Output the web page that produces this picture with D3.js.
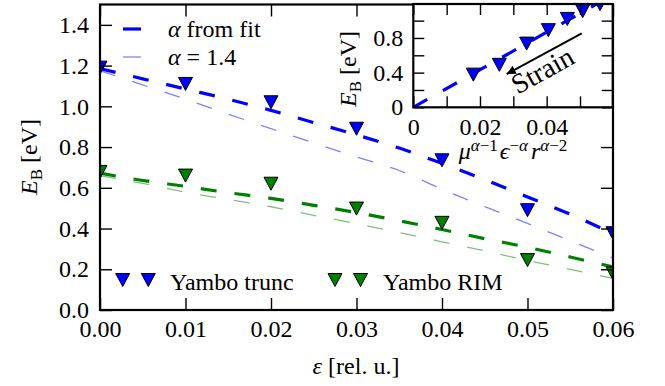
<!DOCTYPE html>
<html>
<head>
<meta charset="utf-8">
<script src="https://cdn.jsdelivr.net/npm/d3@7"></script>
<style>
  html, body { margin: 0; padding: 0; background: #fff; }
  svg { display: block; }
  text { font-family: "Liberation Serif", "Times New Roman", Times, "DejaVu Serif", serif; fill: #000; }
</style>
</head>
<body>
<svg id="chart" width="665" height="386"></svg>
<script>
// ---------- data ----------
const strain = [0, 0.01, 0.02, 0.03, 0.04, 0.05, 0.06];
const yamboTrunc = [1.19, 1.11, 1.02, 0.89, 0.735, 0.49, 0.377];
const yamboRIM = [0.678, 0.66, 0.62, 0.498, 0.428, 0.245, 0.18];

const curveStrain = [0, 0.005, 0.01, 0.015, 0.02, 0.025, 0.03, 0.035, 0.04, 0.045, 0.05, 0.055, 0.06];
const fitTrunc = [1.185, 1.135, 1.085, 1.035, 0.98, 0.92, 0.86, 0.795, 0.72, 0.64, 0.555, 0.47, 0.375];
const a14Trunc = [1.175, 1.105, 1.035, 0.962, 0.89, 0.82, 0.752, 0.685, 0.593, 0.508, 0.425, 0.34, 0.255];
const fitRIM = [0.672, 0.636, 0.607, 0.576, 0.548, 0.514, 0.478, 0.438, 0.395, 0.35, 0.308, 0.26, 0.212];
const a14RIM = [0.66, 0.622, 0.578, 0.543, 0.507, 0.465, 0.424, 0.38, 0.335, 0.29, 0.243, 0.2, 0.155];

const xTicks = [0, 0.01, 0.02, 0.03, 0.04, 0.05, 0.06];
const yTicks = [0, 0.2, 0.4, 0.6, 0.8, 1.0, 1.2, 1.4];

const insetX = [0.018, 0.0258, 0.034, 0.0405, 0.0462, 0.0508, 0.056];
const insetY = [0.377, 0.49, 0.735, 0.89, 1.02, 1.11, 1.19];
const insetFitX = [0, 0.06];
const insetFitY = [0, 1.3];
const insetXTicks = [0, 0.01, 0.02, 0.03, 0.04, 0.05];
const insetXLabels = [0, 0.02, 0.04];
const insetYTicks = [0, 0.2, 0.4, 0.6, 0.8, 1.0];
const insetYLabels = [0, 0.4, 0.8];

// ---------- style ----------
const BLUE = "#0000ff", BLUE_L = "#8080ff", GREEN = "#008000", GREEN_L = "#80c080";
const FS = 24;
const FONT = "Liberation Serif, Times New Roman, Times, DejaVu Serif, serif";

const svg = d3.select("#chart");
svg.append("rect").attr("width", 665).attr("height", 386).attr("fill", "#fff");

// ---------- main axes ----------
const M = { left: 100, right: 613, top: 4.5, bottom: 310 };
const x = d3.scaleLinear().domain([0, 0.06]).range([M.left, M.right]);
const y = d3.scaleLinear().domain([0, 1.5]).range([M.bottom, M.top]);

const defs = svg.append("defs");
defs.append("clipPath").attr("id", "clipMain").append("rect")
  .attr("x", M.left).attr("y", M.top).attr("width", M.right - M.left).attr("height", M.bottom - M.top);

const plot = svg.append("g").attr("clip-path", "url(#clipMain)");
const line = d3.line().x(d => x(d[0])).y(d => y(d[1])).curve(d3.curveMonotoneX);

function drawCurve(vals, color, width) {
  plot.append("path")
    .datum(curveStrain.map((s, i) => [s, vals[i]]))
    .attr("d", line).attr("fill", "none")
    .attr("stroke", color).attr("stroke-width", width)
    .attr("stroke-dasharray", "16,18");
}
drawCurve(a14Trunc, BLUE_L, 1.3);
drawCurve(a14RIM, GREEN_L, 1.3);
drawCurve(fitTrunc, BLUE, 3.2);
drawCurve(fitRIM, GREEN, 3.2);

function tri(cx, cy, w, h) {
  return `M${cx - w / 2},${cy - h / 2}L${cx + w / 2},${cy - h / 2}L${cx},${cy + h / 2}Z`;
}
function drawMarkers(g, xs, ys, xs_, ys_, color) {
  g.selectAll(null).data(xs.map((v, i) => [v, ys[i]])).enter().append("path")
    .attr("d", d => tri(xs_(d[0]), ys_(d[1]), 14, 13))
    .attr("fill", color).attr("stroke", "#000").attr("stroke-width", 1);
}
drawMarkers(plot, strain, yamboTrunc, x, y, BLUE);
drawMarkers(plot, strain, yamboRIM, x, y, GREEN);

// axes with inward ticks
function styleAxis(g) {
  g.attr("font-family", FONT);
  g.select(".domain").remove();
  g.selectAll(".tick line").attr("stroke", "#000").attr("stroke-width", 1.4);
  g.selectAll(".tick text").attr("font-size", FS).attr("font-family", FONT);
}
svg.append("g").attr("transform", `translate(0,${M.bottom})`)
  .call(d3.axisBottom(x).tickValues(xTicks).tickFormat(d3.format(".2f")).tickSize(-12).tickPadding(9.5))
  .call(styleAxis);
svg.append("g").attr("transform", `translate(0,${M.top})`)
  .call(d3.axisTop(x).tickValues(xTicks).tickFormat("").tickSize(-12))
  .call(styleAxis);
svg.append("g").attr("transform", `translate(${M.left},0)`)
  .call(d3.axisLeft(y).tickValues(yTicks).tickFormat(d3.format(".1f")).tickSize(-12).tickPadding(11))
  .call(styleAxis);
svg.append("g").attr("transform", `translate(${M.right},0)`)
  .call(d3.axisRight(y).tickValues(yTicks).tickFormat("").tickSize(-12))
  .call(styleAxis);

svg.append("rect").attr("x", M.left).attr("y", M.top)
  .attr("width", M.right - M.left).attr("height", M.bottom - M.top)
  .attr("fill", "none").attr("stroke", "#000").attr("stroke-width", 2.2);

// axis labels
const yl = svg.append("text").attr("transform", `translate(37,157) rotate(-90)`)
  .attr("text-anchor", "middle").attr("font-size", FS);
yl.append("tspan").attr("font-style", "italic").text("E");
yl.append("tspan").attr("font-size", 17).attr("dy", 5).text("B");
yl.append("tspan").attr("dy", -5).text(" [eV]");

const xl = svg.append("text").attr("x", 356).attr("y", 374)
  .attr("text-anchor", "middle").attr("font-size", FS);
xl.append("tspan").attr("font-style", "italic").text("ε");
xl.append("tspan").text(" [rel. u.]");

// upper legend
svg.append("line").attr("x1", 123).attr("x2", 141).attr("y1", 29).attr("y2", 29)
  .attr("stroke", BLUE).attr("stroke-width", 3.2);
svg.append("line").attr("x1", 123).attr("x2", 141).attr("y1", 57).attr("y2", 57)
  .attr("stroke", BLUE_L).attr("stroke-width", 1.3);
const l1 = svg.append("text").attr("x", 168).attr("y", 37).attr("font-size", FS);
l1.append("tspan").attr("font-style", "italic").text("α");
l1.append("tspan").text(" from fit");
const l2 = svg.append("text").attr("x", 168).attr("y", 65).attr("font-size", FS);
l2.append("tspan").attr("font-style", "italic").text("α");
l2.append("tspan").text(" = 1.4");

// lower legend
const legG = svg.append("g");
[[122.7, BLUE], [148.3, BLUE], [335, GREEN], [360.5, GREEN]].forEach(([cx, c]) => {
  legG.append("path").attr("d", tri(cx, 280, 14, 13)).attr("fill", c)
    .attr("stroke", "#000").attr("stroke-width", 1);
});
legG.append("text").attr("x", 170).attr("y", 290).attr("font-size", FS).text("Yambo trunc");
legG.append("text").attr("x", 383).attr("y", 290).attr("font-size", FS).text("Yambo RIM");

// ---------- inset ----------
const I = { left: 413.3, right: 612.7, top: 4, bottom: 107.3 };
const xi = d3.scaleLinear().domain([0, 0.06]).range([I.left, I.left + (I.right - I.left) * 0.06 / 0.0598]);
const yi = d3.scaleLinear().domain([0, 1.2]).range([I.bottom, 3.3]);

svg.append("rect").attr("x", I.left).attr("y", I.top)
  .attr("width", I.right - I.left).attr("height", I.bottom - I.top).attr("fill", "#fff");

defs.append("clipPath").attr("id", "clipInset").append("rect")
  .attr("x", I.left).attr("y", I.top).attr("width", I.right - I.left).attr("height", I.bottom - I.top);
const inset = svg.append("g").attr("clip-path", "url(#clipInset)");

inset.append("path")
  .datum(insetFitX.map((v, i) => [v, insetFitY[i]]))
  .attr("d", d3.line().x(d => xi(d[0])).y(d => yi(d[1])))
  .attr("fill", "none").attr("stroke", BLUE).attr("stroke-width", 3.2)
  .attr("stroke-dasharray", "16,18");
drawMarkers(inset, insetX, insetY, xi, yi, BLUE);

// arrow + Strain
defs.append("marker").attr("id", "ahead").attr("viewBox", "0 0 10 10")
  .attr("refX", 10).attr("refY", 5).attr("markerUnits", "userSpaceOnUse")
  .attr("markerWidth", 18).attr("markerHeight", 9).attr("orient", "auto")
  .append("path").attr("d", "M0,0L10,5L0,10Z").attr("fill", "#000");
inset.append("line").attr("x1", 581.7).attr("y1", 33.3).attr("x2", 506.7).attr("y2", 74)
  .attr("stroke", "#000").attr("stroke-width", 2).attr("marker-end", "url(#ahead)");
inset.append("text").attr("transform", "translate(542.3,70) rotate(-29)")
  .attr("text-anchor", "middle").attr("dy", "0.35em").attr("font-size", 28).text("Strain");

const fmtI = d => d === 0 ? "0" : (insetXLabels.includes(d) ? d3.format(".2f")(d) : "");
const fmtIY = d => d === 0 ? "0" : (insetYLabels.includes(d) ? d3.format(".1f")(d) : "");
svg.append("g").attr("transform", `translate(0,${I.bottom})`)
  .call(d3.axisBottom(xi).tickValues(insetXTicks).tickFormat(fmtI).tickSize(-11).tickPadding(10.5))
  .call(styleAxis);
svg.append("g").attr("transform", `translate(0,${I.top})`)
  .call(d3.axisTop(xi).tickValues(insetXTicks).tickFormat("").tickSize(-11))
  .call(styleAxis);
svg.append("g").attr("transform", `translate(${I.left},0)`)
  .call(d3.axisLeft(yi).tickValues(insetYTicks).tickFormat(fmtIY).tickSize(-11).tickPadding(10))
  .call(styleAxis);
svg.append("g").attr("transform", `translate(${I.right},0)`)
  .call(d3.axisRight(yi).tickValues(insetYTicks).tickFormat("").tickSize(-11))
  .call(styleAxis);

svg.append("rect").attr("x", I.left).attr("y", I.top)
  .attr("width", I.right - I.left).attr("height", I.bottom - I.top)
  .attr("fill", "none").attr("stroke", "#000").attr("stroke-width", 2.2);

const iyl = svg.append("text").attr("transform", `translate(356,69) rotate(-90)`)
  .attr("text-anchor", "middle").attr("font-size", FS);
iyl.append("tspan").attr("font-style", "italic").text("E");
iyl.append("tspan").attr("font-size", 17).attr("dy", 5).text("B");
iyl.append("tspan").attr("dy", -5).text(" [eV]");

const SUP = 17, SH = 8;
const ixl = svg.append("text").attr("x", 513).attr("y", 159)
  .attr("text-anchor", "middle").attr("font-size", FS);
ixl.append("tspan").attr("font-style", "italic").text("μ");
ixl.append("tspan").attr("font-size", SUP).attr("dy", -SH).attr("font-style", "italic").text("α");
ixl.append("tspan").attr("font-size", SUP).text("−1");
ixl.append("tspan").attr("dy", SH).attr("dx", 2).attr("font-style", "italic").text("ϵ");
ixl.append("tspan").attr("font-size", SUP).attr("dy", -SH).text("−");
ixl.append("tspan").attr("font-size", SUP).attr("font-style", "italic").text("α");
ixl.append("tspan").attr("dy", SH).attr("dx", 3).attr("font-style", "italic").text("r");
ixl.append("tspan").attr("font-size", SUP).attr("dy", -SH).attr("font-style", "italic").text("α");
ixl.append("tspan").attr("font-size", SUP).text("−2");
</script>
</body>
</html>
